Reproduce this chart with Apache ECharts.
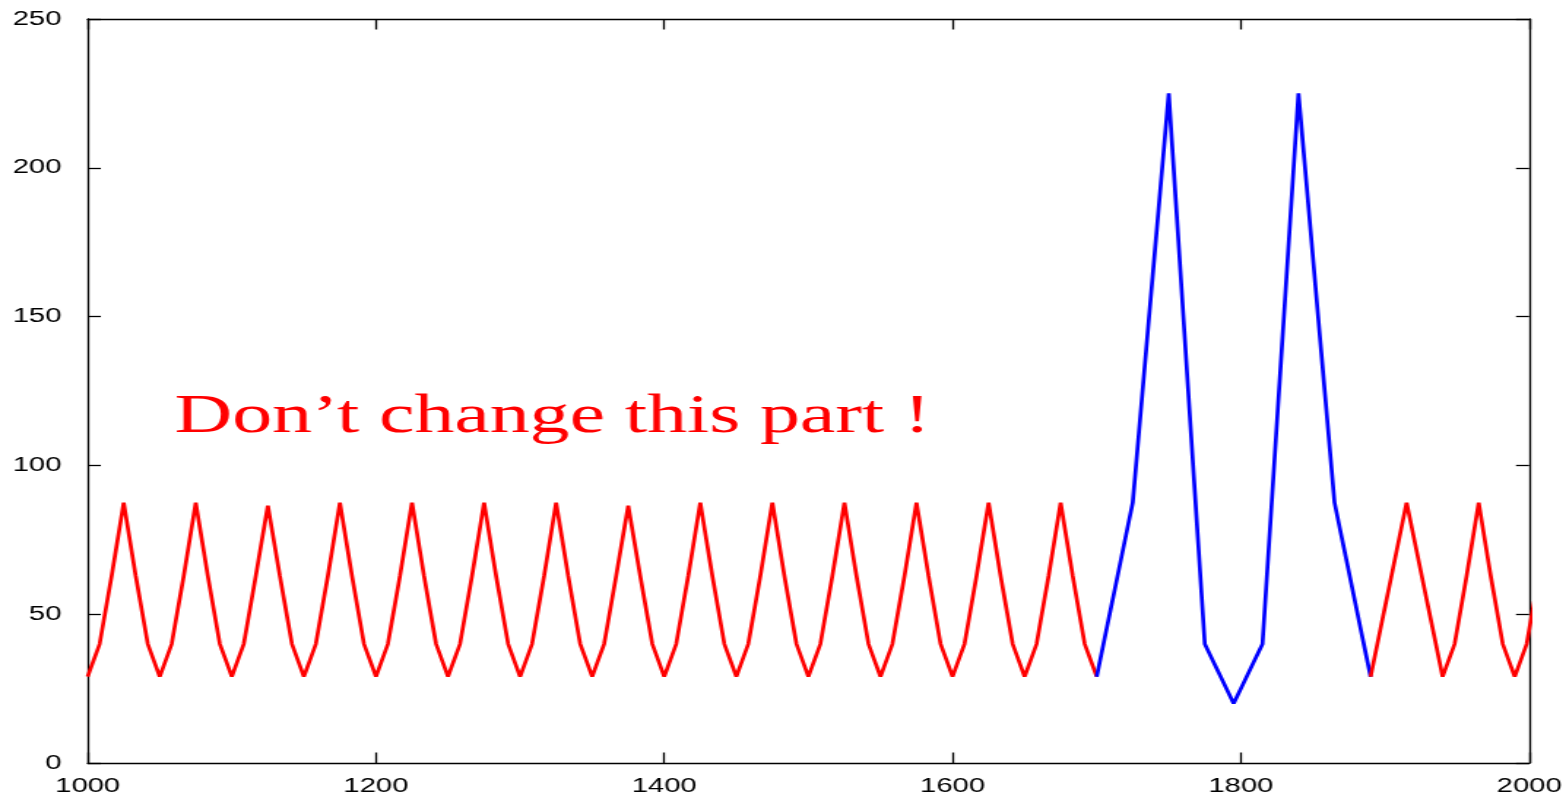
<!DOCTYPE html>
<html>
<head>
<meta charset="utf-8">
<script src="https://cdn.jsdelivr.net/npm/echarts@6/dist/echarts.min.js"></script>
<style>
html,body{margin:0;padding:0;background:#fff;overflow:hidden;}
#c{width:1072px;height:801px;transform:scaleX(1.46082);transform-origin:0 0;}
</style>
</head>
<body>
<div id="c"></div>
<script>
// ---- data ----
var xTicks = [1000, 1200, 1400, 1600, 1800, 2000];
var yTicks = [0, 50, 100, 150, 200, 250];
var annotation = 'Don\u2019t change this part !';

var redPart1 = [
  [1000,29],[1008.3,40],[1016.7,63],[1025,87.5],[1033.3,63],[1041.7,40],
  [1050,29],[1058.3,40],[1066.7,63],[1075,87.5],[1083.3,63],[1091.7,40],
  [1100,29],[1108.3,40],[1116.7,63],[1125,86.5],[1133.3,63],[1141.7,40],
  [1150,29],[1158.3,40],[1166.7,63],[1175,87.5],[1183.3,63],[1191.7,40],
  [1200,29],[1208.3,40],[1216.7,63],[1225,87.5],[1233.3,63],[1241.7,40],
  [1250,29],[1258.3,40],[1266.7,63],[1275,87.5],[1283.3,63],[1291.7,40],
  [1300,29],[1308.3,40],[1316.7,63],[1325,87.5],[1333.3,63],[1341.7,40],
  [1350,29],[1358.3,40],[1366.7,63],[1375,86.5],[1383.3,63],[1391.7,40],
  [1400,29],[1408.3,40],[1416.7,63],[1425,87.5],[1433.3,63],[1441.7,40],
  [1450,29],[1458.3,40],[1466.7,63],[1475,87.5],[1483.3,63],[1491.7,40],
  [1500,29],[1508.3,40],[1516.7,63],[1525,87.5],[1533.3,63],[1541.7,40],
  [1550,29],[1558.3,40],[1566.7,63],[1575,87.5],[1583.3,63],[1591.7,40],
  [1600,29],[1608.3,40],[1616.7,63],[1625,87.5],[1633.3,63],[1641.7,40],
  [1650,29],[1658.3,40],[1666.7,63],[1675,87.5],[1683.3,63],[1691.7,40],
  [1700,29]
];
var bluePart = [
  [1700,29],[1725,87.5],[1750,225],[1775,40],[1795,20],[1815,40],[1840,225],[1865,87.5],[1890,29]
];
var redPart2 = [
  [1890,29],[1915,87.5],[1940,29],[1948.3,40],[1956.7,63],[1965,87.5],[1973.3,63],[1981.7,40],[1990,29],[1998.3,40],[2006.7,63]
];

// ---- chart ----
var chart = echarts.init(document.getElementById('c'), null, {renderer:'canvas'});
var labelFont = {color:'#000', fontFamily:'"Liberation Sans", Arial, sans-serif', fontSize:20};
var axisLine = {show:true, onZero:false, lineStyle:{color:'#000', width:1.3}};
var xMin = xTicks[0], xMax = xTicks[xTicks.length-1], xInt = xTicks[1]-xTicks[0];
var yMin = yTicks[0], yMax = yTicks[yTicks.length-1], yInt = yTicks[1]-yTicks[0];
var plainNum = function (v) { return String(v); };

chart.setOption({
  animation:false,
  backgroundColor:'#fff',
  grid:{left:60, right:23, top:19, bottom:38, containLabel:false},
  xAxis:[
    {type:'value', position:'bottom', min:xMin, max:xMax, interval:xInt,
     axisLine:axisLine, splitLine:{show:false},
     axisTick:{show:true, inside:true, length:10.5, lineStyle:{color:'#000', width:1.3}},
     axisLabel:Object.assign({margin:13, formatter:plainNum}, labelFont)},
    {type:'value', position:'top', min:xMin, max:xMax, interval:xInt,
     axisLine:axisLine, splitLine:{show:false},
     axisTick:{show:true, inside:true, length:10.5, lineStyle:{color:'#000', width:1.3}},
     axisLabel:{show:false}}
  ],
  yAxis:[
    {type:'value', position:'left', min:yMin, max:yMax, interval:yInt,
     axisLine:axisLine, splitLine:{show:false},
     axisTick:{show:true, inside:true, length:9, lineStyle:{color:'#000', width:1.3}},
     axisLabel:Object.assign({margin:18, formatter:plainNum}, labelFont)},
    {type:'value', position:'right', min:yMin, max:yMax, interval:yInt,
     axisLine:axisLine, splitLine:{show:false},
     axisTick:{show:true, inside:true, length:9, lineStyle:{color:'#000', width:1.3}},
     axisLabel:{show:false}}
  ],
  graphic:[
    {type:'text', x:119.5, y:417.5, z:100,
     style:{text:annotation, fill:'#ff0000', fontFamily:'"Liberation Serif", "Times New Roman", serif',
            fontSize:54.6, align:'left', verticalAlign:'middle'}}
  ],
  series:[
    {type:'line', data:redPart1, showSymbol:false, symbol:'none', clip:true,
     lineStyle:{color:'#ff0000', width:2.7}, itemStyle:{color:'#ff0000'}},
    {type:'line', data:bluePart, showSymbol:false, symbol:'none', clip:true,
     lineStyle:{color:'#0000ff', width:2.7}, itemStyle:{color:'#0000ff'}},
    {type:'line', data:redPart2, showSymbol:false, symbol:'none', clip:true,
     lineStyle:{color:'#ff0000', width:2.7}, itemStyle:{color:'#ff0000'}}
  ]
});
</script>
</body>
</html>
